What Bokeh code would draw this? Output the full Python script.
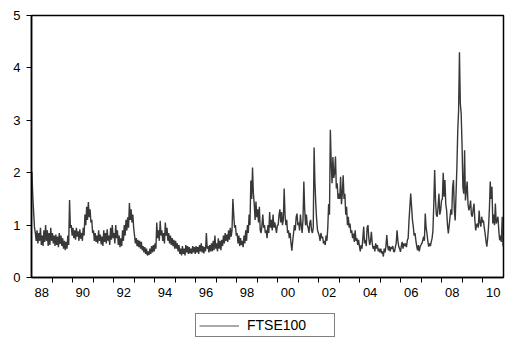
from bokeh.plotting import figure
from bokeh.layouts import column
from bokeh.models import Range1d, FixedTicker, Legend, LegendItem, ColumnDataSource
from bokeh.embed import file_html
from bokeh.resources import INLINE

# ---- data: FTSE100 volatility, semi-monthly readings (24 per year) ----
start_year = 1988
obs_per_year = 24
v1988 = [2.02, 1.55, 1.25, 0.95, 0.85, 0.70, 0.90, 0.65, 0.85, 0.70, 0.95, 0.62, 0.80, 0.60, 0.90, 0.68, 1.00, 0.70, 0.90, 0.60, 0.85, 0.62, 0.95, 0.70]
v1989 = [0.85, 0.65, 0.80, 0.60, 0.82, 0.62, 0.78, 0.58, 0.85, 0.64, 0.80, 0.60, 0.75, 0.55, 0.70, 0.52, 0.68, 0.55, 0.80, 0.62, 1.48, 0.95, 1.00, 0.80]
v1990 = [0.95, 0.75, 0.90, 0.72, 0.95, 0.78, 0.88, 0.70, 0.92, 0.74, 0.85, 0.70, 0.95, 0.80, 1.20, 1.00, 1.35, 1.10, 1.44, 1.15, 1.30, 1.05, 1.10, 0.85]
v1991 = [0.90, 0.70, 0.85, 0.68, 0.80, 0.65, 0.90, 0.70, 0.82, 0.63, 0.78, 0.60, 0.90, 0.68, 0.85, 0.65, 0.92, 0.70, 0.80, 0.62, 0.95, 0.72, 1.00, 0.75]
v1992 = [0.85, 0.65, 1.00, 0.75, 0.90, 0.62, 0.80, 0.58, 0.75, 0.60, 0.90, 0.70, 1.00, 0.80, 1.10, 0.90, 1.15, 0.95, 1.42, 1.10, 1.30, 1.05, 1.20, 0.95]
v1993 = [0.80, 0.65, 0.75, 0.60, 0.72, 0.58, 0.70, 0.55, 0.68, 0.52, 0.60, 0.48, 0.58, 0.45, 0.55, 0.42, 0.50, 0.43, 0.55, 0.45, 0.60, 0.48, 0.62, 0.50]
v1994 = [0.65, 0.55, 1.05, 0.75, 0.90, 0.70, 1.08, 0.80, 0.90, 0.70, 0.85, 0.65, 1.05, 0.80, 0.95, 0.70, 0.85, 0.65, 0.80, 0.62, 0.75, 0.60, 0.72, 0.55]
v1995 = [0.70, 0.55, 0.65, 0.50, 0.62, 0.45, 0.55, 0.42, 0.60, 0.45, 0.55, 0.42, 0.62, 0.48, 0.60, 0.45, 0.58, 0.46, 0.55, 0.45, 0.60, 0.48, 0.58, 0.45]
v1996 = [0.60, 0.48, 0.58, 0.45, 0.62, 0.50, 0.65, 0.48, 0.60, 0.46, 0.58, 0.50, 0.85, 0.55, 0.60, 0.48, 0.62, 0.50, 0.65, 0.50, 0.70, 0.52, 0.80, 0.55]
v1997 = [0.65, 0.50, 0.75, 0.55, 0.70, 0.52, 0.72, 0.60, 0.80, 0.65, 0.85, 0.70, 0.82, 0.68, 0.90, 0.72, 0.95, 0.78, 0.90, 1.50, 1.20, 0.95, 1.00, 0.80]
v1998 = [0.85, 0.65, 0.80, 0.60, 0.75, 0.62, 0.70, 0.58, 0.80, 0.65, 0.90, 0.70, 1.00, 0.85, 1.20, 1.00, 1.85, 1.50, 2.10, 1.60, 1.40, 1.10, 1.45, 1.15]
v1999 = [1.30, 1.05, 1.35, 0.90, 0.85, 1.00, 1.20, 0.95, 1.00, 0.85, 0.90, 0.75, 1.00, 0.85, 1.25, 0.95, 1.10, 0.90, 1.20, 0.95, 1.05, 0.95, 0.85, 1.00]
v2000 = [1.00, 1.20, 1.30, 1.05, 1.25, 1.00, 1.10, 1.70, 1.20, 1.00, 1.10, 0.85, 0.90, 0.75, 0.85, 0.65, 0.51, 0.70, 0.85, 1.00, 0.90, 1.15, 1.22, 1.00]
v2001 = [1.05, 0.90, 1.20, 1.00, 0.85, 1.10, 1.83, 1.30, 1.00, 1.20, 1.00, 0.95, 0.85, 1.05, 1.10, 0.90, 0.85, 0.95, 2.48, 1.80, 1.40, 1.10, 0.90, 0.85]
v2002 = [0.80, 0.70, 0.85, 0.75, 0.78, 0.65, 0.70, 0.62, 0.80, 0.70, 0.95, 1.40, 1.20, 2.82, 2.20, 1.80, 2.30, 1.90, 2.00, 2.31, 1.70, 1.80, 1.50, 1.60]
v2003 = [1.50, 1.92, 1.40, 1.60, 1.95, 1.50, 1.60, 1.20, 1.35, 1.00, 1.16, 0.95, 1.03, 0.85, 0.90, 0.75, 0.84, 0.68, 0.90, 0.70, 0.75, 0.62, 0.72, 0.60]
v2004 = [0.50, 0.62, 0.55, 0.75, 0.97, 0.65, 0.72, 0.60, 0.95, 1.00, 0.75, 0.62, 0.70, 0.87, 0.65, 0.55, 0.60, 0.50, 0.65, 0.55, 0.62, 0.50, 0.55, 0.48]
v2005 = [0.55, 0.46, 0.50, 0.40, 0.55, 0.48, 0.60, 0.81, 0.60, 0.52, 0.60, 0.50, 0.58, 0.55, 0.60, 0.50, 0.49, 0.58, 0.65, 0.90, 0.70, 0.59, 0.55, 0.49]
v2006 = [0.60, 0.68, 0.55, 0.65, 0.60, 0.65, 0.58, 0.71, 0.75, 1.09, 1.35, 1.60, 1.35, 1.10, 0.97, 0.80, 0.85, 0.71, 0.60, 0.52, 0.62, 0.50, 0.59, 0.62]
v2007 = [0.65, 0.70, 0.78, 0.70, 1.22, 0.95, 0.84, 0.70, 0.59, 0.65, 0.60, 0.68, 0.75, 0.90, 1.41, 2.05, 1.47, 1.20, 1.16, 1.35, 1.60, 1.20, 1.28, 1.47]
v2008 = [1.50, 2.00, 1.54, 1.86, 1.40, 1.28, 1.00, 0.84, 1.00, 1.16, 1.30, 1.20, 1.73, 1.86, 1.30, 1.09, 1.60, 2.11, 2.80, 3.19, 4.30, 3.32, 3.13, 2.55]
v2009 = [1.73, 1.60, 2.43, 1.47, 1.65, 1.83, 1.40, 1.28, 1.35, 1.47, 1.20, 1.16, 1.30, 1.41, 1.10, 0.90, 1.00, 1.03, 0.95, 1.28, 1.05, 0.97, 1.16, 1.05]
v2010 = [1.09, 0.95, 0.84, 0.70, 0.59, 0.75, 0.97, 1.30, 1.83, 1.50, 1.73, 1.03, 1.20, 1.00, 1.41, 1.03, 1.10, 1.16, 0.90, 0.71, 0.80, 0.68, 1.16, 0.59]

year_labels = ["88", "90", "92", "94", "96", "98", "00", "02", "04", "06", "08", "10"]
y_ticks = [0, 1, 2, 3, 4, 5]
series_name = "FTSE100"

years = [v1988, v1989, v1990, v1991, v1992, v1993, v1994, v1995, v1996, v1997, v1998, v1999,
         v2000, v2001, v2002, v2003, v2004, v2005, v2006, v2007, v2008, v2009, v2010]
values = [v for yr in years for v in yr]
dates = [start_year + (i + 0.5) / obs_per_year for i in range(len(values))]
end_year = start_year + len(years)

source = ColumnDataSource(dict(x=dates, y=values))
LINE_COLOR = "#383838"

p = figure(width=506, height=302, output_backend="svg", toolbar_location=None,
           x_range=Range1d(start_year, end_year), y_range=Range1d(0, 5),
           min_border_left=31, min_border_right=3, min_border_top=15, min_border_bottom=25)
p.background_fill_color = "white"
p.border_fill_color = "white"
p.outline_line_color = "black"
p.outline_line_width = 1.5
p.xgrid.grid_line_color = None
p.ygrid.grid_line_color = None

r = p.line("x", "y", source=source, line_color=LINE_COLOR, line_width=1.4)

# x axis: year boundary ticks (minor), labels centred in every second year
label_pos = [start_year + 2 * k + 0.5 for k in range(len(year_labels))]
boundaries = [float(y) for y in range(start_year + 1, end_year)]
xa = p.xaxis[0]
xa.ticker = FixedTicker(ticks=label_pos, minor_ticks=boundaries)
xa.major_label_overrides = {pos: lab for pos, lab in zip(label_pos, year_labels)}
xa.major_tick_line_color = None
xa.major_tick_out = 5
xa.major_tick_in = 0
xa.minor_tick_line_color = "black"
xa.minor_tick_out = 5
xa.minor_tick_in = 0
xa.major_label_standoff = 5
xa.axis_line_color = "black"
xa.axis_line_width = 1.5

ya = p.yaxis[0]
ya.ticker = FixedTicker(ticks=y_ticks, minor_ticks=[])
ya.major_tick_line_color = "black"
ya.major_tick_out = 5
ya.major_tick_in = 0
ya.minor_tick_line_color = None
ya.major_label_standoff = 6
ya.axis_line_color = "black"
ya.axis_line_width = 1.5

for ax in (xa, ya):
    ax.major_label_text_font = "Liberation Sans"
    ax.major_label_text_font_size = "13px"
    ax.major_label_text_color = "black"

# ---- legend strip below the chart (its frame is aligned with the chart's frame) ----
lg = figure(width=506, height=40, output_backend="svg", toolbar_location=None,
            x_range=Range1d(0, 1), y_range=Range1d(0, 1),
            x_axis_location=None, y_axis_location=None,
            min_border=0, min_border_left=0, min_border_right=0,
            min_border_top=0, min_border_bottom=0)
lg.outline_line_color = None
lg.xgrid.grid_line_color = None
lg.ygrid.grid_line_color = None
lg.background_fill_color = "white"
lg.border_fill_color = "white"
# key renderer shares the series data; its values lie outside this strip's ranges
key = lg.line("x", "y", source=source, line_color="#555555", line_width=1)

legend = Legend(items=[LegendItem(label=series_name, renderers=[key])],
                location=(164, 5), orientation="horizontal",
                border_line_color="black", border_line_width=1,
                background_fill_color="white", background_fill_alpha=1.0,
                label_text_font="Liberation Sans", label_text_font_size="14px",
                label_text_color="black",
                glyph_width=40, glyph_height=15, label_height=15, label_width=84,
                label_standoff=8, padding=3, margin=0, spacing=0)
lg.add_layout(legend)

page = column(p, lg, spacing=0)
open("out.html", "w").write(file_html(page, INLINE))
